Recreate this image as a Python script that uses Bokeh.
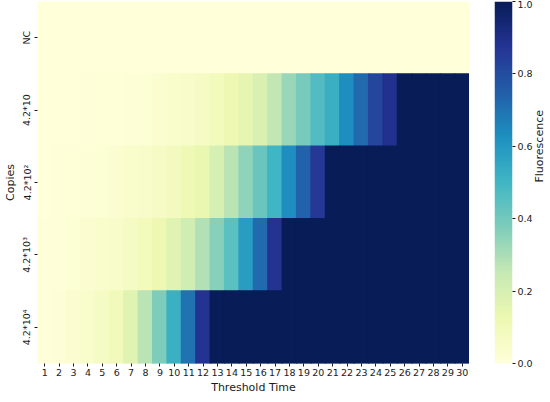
import math
import numpy as np
from bokeh.plotting import figure
from bokeh.models import (LinearColorMapper, ColumnDataSource, FixedTicker,
                          PrintfTickFormatter, FactorRange, Range1d)
from bokeh.layouts import row
from bokeh.embed import file_html
from bokeh.resources import INLINE

# ---------------- data ----------------
times = [str(i) for i in range(1, 31)]
copies = ["NC", "4.2*10", "4.2*10²", "4.2*10³", "4.2*10⁴"]

nc = [0.0, 0.0, 0.0, 0.0, 0.0, 0.0, 0.0, 0.0, 0.0, 0.0,
      0.0, 0.0, 0.0, 0.0, 0.0, 0.0, 0.0, 0.0, 0.0, 0.0,
      0.0, 0.0, 0.0, 0.0, 0.0, 0.0, 0.0, 0.0, 0.0, 0.0]
c1 = [0.0, 0.0, 0.0, 0.005, 0.01, 0.01, 0.015, 0.02, 0.03, 0.04,
      0.05, 0.07, 0.09, 0.12, 0.15, 0.19, 0.26, 0.33, 0.39, 0.466,
      0.527, 0.63, 0.72, 0.82, 0.89, 1.0, 1.0, 1.0, 1.0, 1.0]
c2 = [0.0, 0.005, 0.01, 0.015, 0.02, 0.03, 0.04, 0.05, 0.065, 0.085,
      0.11, 0.14, 0.2, 0.27, 0.35, 0.42, 0.5, 0.63, 0.74, 0.86,
      1.0, 1.0, 1.0, 1.0, 1.0, 1.0, 1.0, 1.0, 1.0, 1.0]
c3 = [0.005, 0.01, 0.02, 0.03, 0.04, 0.05, 0.07, 0.09, 0.12, 0.17,
      0.22, 0.286, 0.36, 0.447, 0.585, 0.72, 0.875, 1.0, 1.0, 1.0,
      1.0, 1.0, 1.0, 1.0, 1.0, 1.0, 1.0, 1.0, 1.0, 1.0]
c4 = [0.005, 0.015, 0.03, 0.04, 0.07, 0.1, 0.17, 0.27, 0.375, 0.52,
      0.70, 0.875, 1.0, 1.0, 1.0, 1.0, 1.0, 1.0, 1.0, 1.0,
      1.0, 1.0, 1.0, 1.0, 1.0, 1.0, 1.0, 1.0, 1.0, 1.0]
series = [nc, c1, c2, c3, c4]

cbar_ticks = [0.0, 0.2, 0.4, 0.6, 0.8, 1.0]

# ---------------- colormap (YlGnBu) ----------------
anchors = ["#ffffd9", "#edf8b1", "#c7e9b4", "#7fcdbb", "#41b6c4",
           "#1d91c0", "#225ea8", "#253494", "#081d58"]
rgb = np.array([[int(h[i:i + 2], 16) for i in (1, 3, 5)] for h in anchors], float)
pos = np.linspace(0, 1, len(anchors))
t = np.linspace(0, 1, 256)
pal = []
for tt in t:
    r = np.interp(tt, pos, rgb[:, 0]); g = np.interp(tt, pos, rgb[:, 1]); b = np.interp(tt, pos, rgb[:, 2])
    pal.append("#%02x%02x%02x" % (int(round(r)), int(round(g)), int(round(b))))
mapper = LinearColorMapper(palette=pal, low=0.0, high=1.0)

xs, ys, vs = [], [], []
for name, vals in zip(copies, series):
    for tm, v in zip(times, vals):
        xs.append(tm); ys.append(name); vs.append(v)
src = ColumnDataSource(dict(x=xs, y=ys, v=vs))

FONT = "DejaVu Sans"
TXT = "#1a1a1a"
TICK_FS = "9.5px"
LAB_FS = "11px"

p = figure(x_range=FactorRange(factors=times, range_padding=0),
           y_range=FactorRange(factors=list(reversed(copies)), range_padding=0),
           frame_width=432, frame_height=362,
           min_border_left=0, min_border_right=0, min_border_top=1, min_border_bottom=0,
           output_backend="svg", toolbar_location=None)
p.rect(x="x", y="y", width=1, height=1, source=src,
       fill_color={"field": "v", "transform": mapper},
       line_color={"field": "v", "transform": mapper}, line_width=1.5)
p.outline_line_color = None
p.grid.grid_line_color = None
for ax in (p.xaxis[0], p.yaxis[0]):
    ax.axis_line_color = None
    ax.major_tick_in = 0
    ax.major_tick_out = 3
    ax.major_tick_line_color = TXT
    ax.minor_tick_line_color = None
    ax.major_label_text_font = FONT
    ax.major_label_text_font_size = TICK_FS
    ax.major_label_text_color = TXT
    ax.axis_label_text_font = FONT
    ax.axis_label_text_font_size = LAB_FS
    ax.axis_label_text_font_style = "normal"
    ax.axis_label_text_color = TXT
    ax.major_label_standoff = 2
    ax.axis_label_standoff = 2
p.xaxis.axis_label = "Threshold Time"
p.yaxis.axis_label = "Copies"
p.yaxis.major_label_orientation = "vertical"

# ---------------- colorbar ----------------
cb = figure(x_range=Range1d(0, 1), y_range=Range1d(0, 1),
            frame_width=18, frame_height=362,
            min_border_left=25, min_border_right=0, min_border_top=1, min_border_bottom=8,
            y_axis_location="right",
            output_backend="svg", toolbar_location=None)
cb.image(image=[np.linspace(0, 1, 256).reshape(256, 1)], x=0, y=0, dw=1, dh=1,
         color_mapper=mapper)
cb.xaxis.visible = False
cb.grid.grid_line_color = None
cb.outline_line_color = None
ya = cb.yaxis[0]
ya.ticker = FixedTicker(ticks=cbar_ticks)
ya.formatter = PrintfTickFormatter(format="%.1f")
ya.axis_line_color = None
ya.major_tick_in = 0
ya.major_tick_out = 3
ya.major_tick_line_color = TXT
ya.minor_tick_line_color = None
ya.major_label_text_font = FONT
ya.major_label_text_font_size = TICK_FS
ya.major_label_text_color = TXT
ya.major_label_standoff = 2
ya.axis_label = "Fluorescence"
ya.axis_label_text_font = FONT
ya.axis_label_text_font_size = LAB_FS
ya.axis_label_text_font_style = "normal"
ya.axis_label_text_color = TXT
ya.axis_label_standoff = 4
try:
    ya.axis_label_orientation = math.pi / 2
except Exception:
    pass

layout = row(p, cb)
open("out.html", "w").write(file_html(layout, INLINE))
